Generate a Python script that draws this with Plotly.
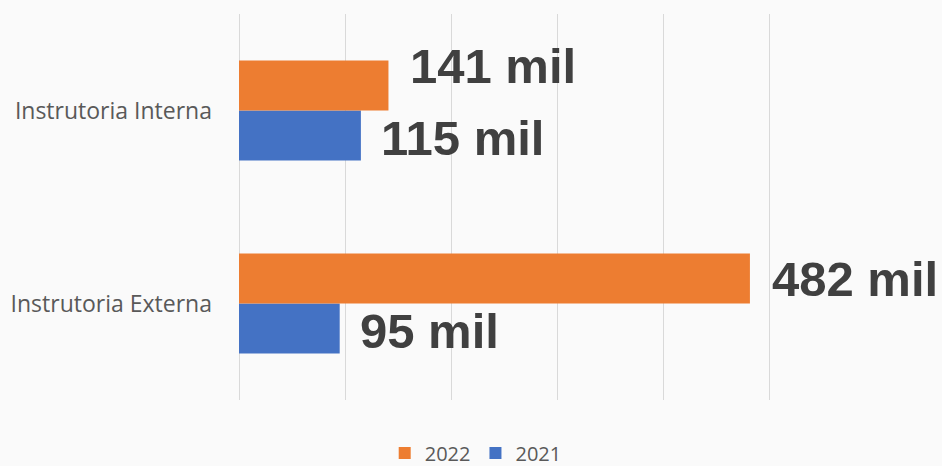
import plotly.graph_objects as go

categorias = ["Instrutoria Externa", "Instrutoria Interna"]
valores_2021 = [95, 115]
valores_2022 = [482, 141]
rotulos_2021 = ["95 mil", "115 mil"]
rotulos_2022 = ["482 mil", "141 mil"]

laranja = "#ED7D31"
azul = "#4472C4"

fig = go.Figure()
fig.add_trace(go.Bar(y=categorias, x=valores_2021, name="2021", orientation="h",
                     marker_color=azul, marker_line_width=0))
fig.add_trace(go.Bar(y=categorias, x=valores_2022, name="2022", orientation="h",
                     marker_color=laranja, marker_line_width=0))

# rótulos dos valores (offset das barras dentro do grupo)
for i, cat in enumerate(categorias):
    fig.add_annotation(x=valores_2022[i], y=cat, text=rotulos_2022[i],
                       xanchor="left", yanchor="middle", showarrow=False,
                       xshift=20, yshift=25 + (20 if i == 1 else 0),
                       font=dict(family="Liberation Sans", size=49, color="#404040"))
    fig.add_annotation(x=valores_2021[i], y=cat, text=rotulos_2021[i],
                       xanchor="left", yanchor="middle", showarrow=False,
                       xshift=18, yshift=-27,
                       font=dict(family="Liberation Sans", size=49, color="#404040"))

fig.update_annotations(font_weight="bold")

fig.update_layout(
    width=942, height=466,
    margin=dict(l=239, r=67, t=14, b=66),
    paper_bgcolor="#FAFAFA", plot_bgcolor="#FAFAFA",
    barmode="group", bargap=0.482, bargroupgap=0,
    showlegend=True,
    legend=dict(orientation="h", traceorder="reversed",
                xref="container", yref="container",
                x=0.505, xanchor="center", y=0.028, yanchor="middle",
                font=dict(family="Open Sans", size=20, color="#595959"),
                itemwidth=30, tracegroupgap=0),
    font=dict(family="Open Sans", color="#595959"),
)
fig.update_xaxes(range=[0, 600], dtick=100, showticklabels=False,
                 showgrid=True, gridcolor="#D9D9D9", gridwidth=1,
                 zeroline=True, zerolinecolor="#D9D9D9", zerolinewidth=1,
                 fixedrange=True)
fig.update_yaxes(showgrid=False, showline=False, ticklabelstandoff=26,
                 tickfont=dict(family="Open Sans", size=23, color="#595959"))

fig.write_html("out.html", config={"displayModeBar": False},
               post_script="document.body.style.margin='0';document.body.style.background='#FAFAFA';")
